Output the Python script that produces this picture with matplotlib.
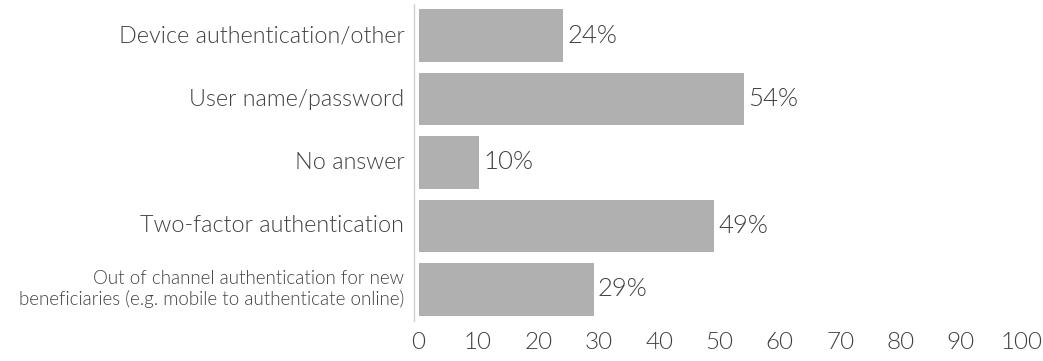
import matplotlib.pyplot as plt

categories = [
    'Device authentication/other',
    'User name/password',
    'No answer',
    'Two-factor authentication',
    'Out of channel authentication for new\nbeneficiaries (e.g. mobile to authenticate online)',
]
values = [24, 54, 10, 49, 29]
label_sizes = [16.8, 16.8, 16.8, 16.8, 13.5]
xticks = [0, 10, 20, 30, 40, 50, 60, 70, 80, 90, 100]

text_color = '#404040'
bar_color = '#b0b0b0'

plt.rcParams['font.family'] = ['Lato', 'DejaVu Sans']
plt.rcParams['font.weight'] = 300

fig = plt.figure(figsize=(10.43, 3.61), dpi=100)
ax = fig.add_axes([0.397, 0.111, 0.582, 0.878])

pos = list(range(len(categories)))
ax.barh(pos, values, height=0.83, color=bar_color, left=0.15)
ax.set_ylim(len(categories) - 0.5, -0.5)
ax.set_xlim(-0.6, 100)

for p, v in zip(pos, values):
    ax.annotate(f'{v}%', xy=(v + 0.15, p), xytext=(3, 0), textcoords='offset points',
                va='center', ha='left', fontsize=18.5, color=text_color)

# category labels drawn as text so each can carry its own size
ax.set_yticks([])
for p, name, s in zip(pos, categories, label_sizes):
    ax.annotate(name, xy=(0, p), xycoords=('axes fraction', 'data'),
                xytext=(-7, 0), textcoords='offset points',
                ha='right', va='center', multialignment='right',
                fontsize=s, color=text_color)

ax.set_xticks(xticks)
ax.set_xticklabels([str(t) for t in xticks], fontsize=17.5, color=text_color)
ax.tick_params(axis='x', length=0, pad=8)

for side in ['top', 'right', 'bottom']:
    ax.spines[side].set_visible(False)
ax.spines['left'].set_color('#d0d0d0')
ax.spines['left'].set_linewidth(1)

fig.savefig('out.png', dpi=100)
